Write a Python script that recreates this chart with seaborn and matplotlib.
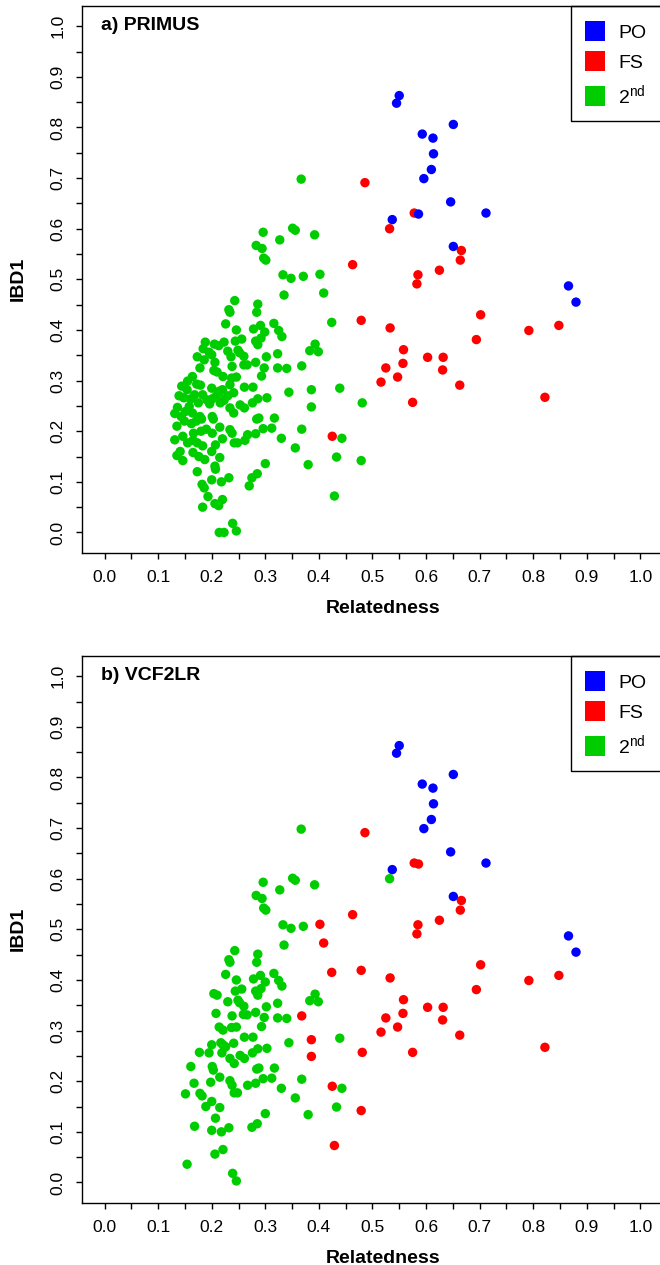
import numpy as np
import pandas as pd
import seaborn as sns
import matplotlib.pyplot as plt
import matplotlib.ticker as ticker
from matplotlib.lines import Line2D
from matplotlib.patches import Rectangle

sns.set_style('white')
plt.rcParams['font.family'] = ['Liberation Sans', 'DejaVu Sans']
plt.rcParams['mathtext.default'] = 'regular'
plt.rcParams['text.color'] = 'black'
plt.rcParams['axes.labelcolor'] = 'black'

colors = {'PO': '#0000FF', 'FS': '#FF0000', '2nd': '#00CD00'}
legend_labels = ['PO', 'FS', '2$^{nd}$']

""" data : panel a (PRIMUS) """
a_po_rel = [0.550, 0.545, 0.651, 0.593, 0.613, 0.614, 0.610, 0.596, 0.646, 0.586,
            0.712, 0.537, 0.651, 0.866, 0.880]
a_po_ibd = [0.863, 0.848, 0.806, 0.787, 0.779, 0.748, 0.717, 0.699, 0.653, 0.629,
            0.631, 0.618, 0.565, 0.487, 0.455]

a_fs_rel = [0.486, 0.578, 0.532, 0.666, 0.664, 0.463, 0.625, 0.585, 0.583, 0.702,
            0.479, 0.533, 0.792, 0.848, 0.694, 0.558, 0.603, 0.632, 0.525, 0.557,
            0.631, 0.547, 0.516, 0.663, 0.822, 0.575, 0.425]
a_fs_ibd = [0.691, 0.631, 0.600, 0.557, 0.538, 0.529, 0.518, 0.509, 0.491, 0.430,
            0.419, 0.404, 0.399, 0.409, 0.381, 0.361, 0.346, 0.346, 0.325, 0.334,
            0.321, 0.307, 0.297, 0.291, 0.267, 0.257, 0.190]

a_2nd_rel = [0.367, 0.296, 0.283, 0.294, 0.297, 0.301, 0.327, 0.351, 0.356, 0.392,
             0.333, 0.348, 0.371, 0.402, 0.335, 0.409, 0.243, 0.232, 0.234, 0.286,
             0.284, 0.424, 0.393, 0.383, 0.399, 0.368, 0.386, 0.439, 0.386, 0.481,
             0.368, 0.443, 0.433, 0.380, 0.479, 0.429,
             0.226, 0.246, 0.278, 0.291, 0.299, 0.316, 0.325, 0.331,
             0.188, 0.205, 0.213, 0.223, 0.244, 0.256, 0.282, 0.286, 0.292,
             0.184, 0.195, 0.200, 0.230, 0.249, 0.252, 0.260, 0.282, 0.302, 0.323,
             0.173, 0.186, 0.206, 0.236, 0.260, 0.266, 0.238, 0.298, 0.323, 0.340,
             0.178, 0.204, 0.210, 0.221, 0.237, 0.246, 0.293,
             0.164, 0.155, 0.172, 0.179, 0.200, 0.220, 0.214, 0.234, 0.261, 0.277, 0.241,
             0.144, 0.154, 0.139, 0.148, 0.161, 0.168, 0.183, 0.191, 0.201, 0.208, 0.215,
             0.223, 0.230, 0.216, 0.196, 0.175, 0.158, 0.136,
             0.253, 0.261, 0.276, 0.286, 0.303, 0.344,
             0.131, 0.143, 0.151, 0.164, 0.178, 0.135, 0.149, 0.162, 0.171, 0.181, 0.201,
             0.203, 0.234, 0.241, 0.284, 0.288, 0.317,
             0.166, 0.180, 0.190, 0.201, 0.215, 0.234, 0.238, 0.267, 0.282, 0.296, 0.312,
             0.131, 0.146, 0.155, 0.165, 0.173, 0.183, 0.207, 0.220, 0.242, 0.248, 0.262,
             0.330, 0.356,
             0.141, 0.135, 0.146, 0.165, 0.176, 0.187, 0.200, 0.215, 0.206, 0.173, 0.207, 0.300,
             0.182, 0.186, 0.200, 0.218, 0.232, 0.193, 0.285, 0.275, 0.270,
             0.183, 0.206, 0.213, 0.220, 0.214, 0.223, 0.239, 0.246]
a_2nd_ibd = [0.698, 0.593, 0.567, 0.561, 0.542, 0.538, 0.578, 0.601, 0.597, 0.588,
             0.509, 0.502, 0.506, 0.510, 0.469, 0.473, 0.458, 0.440, 0.435, 0.451,
             0.435, 0.415, 0.372, 0.359, 0.357, 0.329, 0.282, 0.285, 0.248, 0.256,
             0.204, 0.186, 0.149, 0.134, 0.142, 0.072,
             0.412, 0.400, 0.402, 0.409, 0.396, 0.413, 0.399, 0.387,
             0.376, 0.372, 0.369, 0.376, 0.378, 0.382, 0.378, 0.371, 0.384,
             0.363, 0.356, 0.351, 0.358, 0.360, 0.355, 0.348, 0.336, 0.347, 0.353,
             0.347, 0.341, 0.336, 0.347, 0.331, 0.331, 0.328, 0.325, 0.325, 0.324,
             0.325, 0.320, 0.317, 0.308, 0.305, 0.307, 0.309,
             0.308, 0.299, 0.293, 0.291, 0.285, 0.282, 0.279, 0.292, 0.287, 0.287, 0.276,
             0.289, 0.282, 0.270, 0.266, 0.264, 0.272, 0.272, 0.262, 0.264, 0.269, 0.266,
             0.261, 0.270, 0.256, 0.254, 0.256, 0.249, 0.247,
             0.252, 0.246, 0.256, 0.264, 0.266, 0.277,
             0.235, 0.229, 0.239, 0.236, 0.229, 0.210, 0.220, 0.215, 0.220, 0.224, 0.229,
             0.224, 0.246, 0.236, 0.224, 0.226, 0.226,
             0.196, 0.200, 0.204, 0.196, 0.208, 0.203, 0.196, 0.193, 0.195, 0.205, 0.206,
             0.183, 0.190, 0.177, 0.182, 0.177, 0.171, 0.173, 0.185, 0.177, 0.177, 0.182,
             0.186, 0.167,
             0.160, 0.152, 0.142, 0.158, 0.150, 0.144, 0.160, 0.148, 0.131, 0.120, 0.125, 0.136,
             0.095, 0.088, 0.104, 0.100, 0.108, 0.071, 0.116, 0.108, 0.092,
             0.050, 0.057, 0.053, 0.065, 0.000, 0.000, 0.018, 0.003]

""" data : panel b (VCF2LR) """
b_po_rel = [0.550, 0.545, 0.651, 0.593, 0.613, 0.614, 0.610, 0.596, 0.646,
            0.712, 0.537, 0.651, 0.866, 0.880]
b_po_ibd = [0.863, 0.848, 0.806, 0.787, 0.779, 0.748, 0.717, 0.699, 0.653,
            0.631, 0.618, 0.565, 0.487, 0.455]

b_fs_rel = [0.486, 0.578, 0.586, 0.666, 0.664, 0.463, 0.625, 0.585, 0.583, 0.702,
            0.479, 0.533, 0.792, 0.848, 0.694, 0.558, 0.603, 0.632, 0.525, 0.557,
            0.631, 0.547, 0.516, 0.663, 0.822, 0.575, 0.425,
            0.402, 0.409, 0.424, 0.368, 0.386, 0.386, 0.481, 0.479, 0.429]
b_fs_ibd = [0.691, 0.631, 0.629, 0.557, 0.538, 0.529, 0.518, 0.509, 0.491, 0.430,
            0.419, 0.404, 0.399, 0.409, 0.381, 0.361, 0.346, 0.346, 0.325, 0.334,
            0.321, 0.307, 0.297, 0.291, 0.267, 0.257, 0.190,
            0.510, 0.473, 0.415, 0.329, 0.282, 0.249, 0.257, 0.142, 0.073]

b_2nd_rel = [0.367, 0.296, 0.283, 0.294, 0.297, 0.301, 0.327, 0.351, 0.356, 0.392,
             0.333, 0.348, 0.371, 0.335, 0.243, 0.232, 0.234, 0.286, 0.284, 0.532,
             0.393, 0.383, 0.399, 0.439, 0.368, 0.443, 0.433, 0.380,
             0.226, 0.246, 0.278, 0.291, 0.300, 0.316, 0.325, 0.331,
             0.204, 0.210, 0.244, 0.256, 0.282, 0.286, 0.292,
             0.230, 0.249, 0.252, 0.260, 0.302, 0.323,
             0.208, 0.238, 0.259, 0.266, 0.282, 0.298, 0.323, 0.340,
             0.214, 0.221, 0.237, 0.246, 0.293,
             0.200, 0.217, 0.221, 0.226, 0.241, 0.261, 0.277, 0.344,
             0.195, 0.177, 0.219, 0.224, 0.253, 0.261, 0.276, 0.286, 0.303, 0.234, 0.242,
             0.161, 0.201, 0.203, 0.284, 0.288, 0.317,
             0.167, 0.198, 0.215, 0.234, 0.238, 0.267, 0.282, 0.296, 0.312,
             0.151, 0.178, 0.182, 0.242, 0.248, 0.330, 0.356,
             0.200, 0.189, 0.215, 0.207, 0.300,
             0.168, 0.200, 0.218, 0.232, 0.285, 0.275,
             0.221, 0.206, 0.154, 0.239, 0.246]
b_2nd_ibd = [0.698, 0.593, 0.567, 0.561, 0.542, 0.538, 0.578, 0.601, 0.597, 0.588,
             0.509, 0.502, 0.506, 0.469, 0.458, 0.440, 0.435, 0.451, 0.435, 0.600,
             0.372, 0.359, 0.357, 0.285, 0.204, 0.186, 0.149, 0.134,
             0.411, 0.400, 0.402, 0.409, 0.396, 0.413, 0.399, 0.388,
             0.373, 0.370, 0.378, 0.382, 0.378, 0.370, 0.383,
             0.357, 0.360, 0.355, 0.348, 0.347, 0.354,
             0.334, 0.329, 0.332, 0.331, 0.336, 0.326, 0.325, 0.324,
             0.307, 0.301, 0.306, 0.307, 0.308,
             0.272, 0.276, 0.272, 0.268, 0.275, 0.287, 0.287, 0.276,
             0.256, 0.257, 0.256, 0.267, 0.251, 0.245, 0.256, 0.264, 0.265, 0.245, 0.235,
             0.229, 0.229, 0.222, 0.224, 0.226, 0.226,
             0.196, 0.198, 0.208, 0.201, 0.192, 0.192, 0.196, 0.205, 0.206,
             0.175, 0.176, 0.171, 0.177, 0.177, 0.186, 0.167,
             0.160, 0.150, 0.148, 0.127, 0.136,
             0.111, 0.103, 0.100, 0.108, 0.116, 0.109,
             0.065, 0.056, 0.036, 0.018, 0.003]


def make_df(rel_2nd, ibd_2nd, rel_fs, ibd_fs, rel_po, ibd_po):
    # green drawn first, then red, blue on top
    frames = [pd.DataFrame({'Relatedness': rel_2nd, 'IBD1': ibd_2nd, 'type': '2nd'}),
              pd.DataFrame({'Relatedness': rel_fs, 'IBD1': ibd_fs, 'type': 'FS'}),
              pd.DataFrame({'Relatedness': rel_po, 'IBD1': ibd_po, 'type': 'PO'})]
    return pd.concat(frames, ignore_index=True)


def draw_panel(ax, df, title):
    sns.scatterplot(data=df, x='Relatedness', y='IBD1', hue='type', palette=colors,
                    s=46, linewidth=0, legend=False, ax=ax)
    ax.set_xlim(-0.0416, 1.0816)
    ax.set_ylim(-0.04, 1.04)
    ax.set_xticks(np.arange(0, 1.01, 0.1))
    ax.set_yticks(np.arange(0, 1.01, 0.1))
    ax.set_xticks(np.arange(0.05, 1.0, 0.1), minor=True)
    ax.set_yticks(np.arange(0.05, 1.0, 0.1), minor=True)
    ax.xaxis.set_major_formatter(ticker.FormatStrFormatter('%.1f'))
    ax.yaxis.set_major_formatter(ticker.FormatStrFormatter('%.1f'))
    ax.tick_params(which='both', direction='out', length=4.3, width=1.0,
                   color='black', left=True, bottom=True)
    ax.tick_params(which='major', labelsize=12.5, pad=8, labelcolor='black')
    plt.setp(ax.get_yticklabels(), rotation=90, va='center', ha='right')
    for side in ['left', 'bottom', 'top', 'right']:
        ax.spines[side].set_color('black')
        ax.spines[side].set_linewidth(1.0)
    ax.set_xlabel('Relatedness', fontsize=14, fontweight='bold', labelpad=11)
    ax.set_ylabel('IBD1', fontsize=14, fontweight='bold', labelpad=17)
    ax.text(0.0306, 0.965, title, transform=ax.transAxes, fontsize=14,
            fontweight='bold', ha='left', va='center')

    # legend at the top right corner of the plot region
    handles = [Line2D([], [], marker='s', ls='', markersize=15, markeredgewidth=0,
                      color=colors[k]) for k in ['PO', 'FS', '2nd']]
    ax.legend(handles, legend_labels, loc='upper left', bbox_to_anchor=(0.8117, 0.99),
              frameon=False, borderaxespad=0, borderpad=0.68, handlelength=1.1,
              handletextpad=0.67, labelspacing=0.6, fontsize=14)
    ax.add_patch(Rectangle((0.8117, 0.790), 0.1883, 0.21, transform=ax.transAxes,
                           fill=False, edgecolor='black', linewidth=1.0, clip_on=False))


fig = plt.figure(figsize=(6.6, 12.65), dpi=100)
ax_a = fig.add_axes([82.3 / 660, (1265 - 552.7) / 1265, 601.7 / 660, 546.7 / 1265])
ax_b = fig.add_axes([82.3 / 660, (1265 - 1202.7) / 1265, 601.7 / 660, 546.7 / 1265])

draw_panel(ax_a, make_df(a_2nd_rel, a_2nd_ibd, a_fs_rel, a_fs_ibd, a_po_rel, a_po_ibd), 'a) PRIMUS')
draw_panel(ax_b, make_df(b_2nd_rel, b_2nd_ibd, b_fs_rel, b_fs_ibd, b_po_rel, b_po_ibd), 'b) VCF2LR')

fig.savefig('out.png', dpi=100)
